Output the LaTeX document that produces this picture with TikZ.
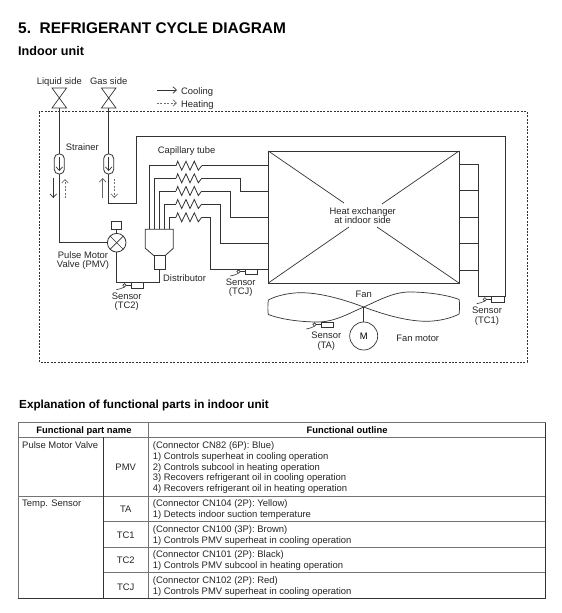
\documentclass[tikz,border=0pt]{standalone}
\usepackage{fontspec}
\setmainfont{Liberation Sans}
\usetikzlibrary{arrows.meta}
\definecolor{ink}{gray}{0.2}
\definecolor{rule}{gray}{0.45}
\tikzset{
  pipe/.style={draw=ink,line width=0.8pt,line join=miter},
  part/.style={draw=ink,line width=0.8pt,fill=white},
  flowc/.style={draw=ink,line width=0.7pt,-{Straight Barb[length=3.6pt,width=6.6pt]}},
  flowh/.style={draw=ink!70,line width=0.7pt,dash pattern=on 2pt off 1.4pt,-{Straight Barb[length=3.6pt,width=6.6pt]}},
  lab/.style={inner sep=0pt,anchor=mid,yshift=-1.5pt,align=center,font=\fontsize{9.4}{9.6}\selectfont,text=black!85},
  labl/.style={inner sep=0pt,anchor=mid west,yshift=-1.5pt,font=\fontsize{9.4}{9.6}\selectfont,text=black!85},
  cell/.style={inner sep=0pt,anchor=mid west,yshift=-1.2pt,font=\fontsize{9.45}{9.6}\selectfont,text=black!85},
  cellc/.style={inner sep=0pt,anchor=mid,yshift=-1.2pt,font=\fontsize{9.45}{9.6}\selectfont,text=black!85},
  head/.style={inner sep=0pt,anchor=mid,yshift=-1.2pt,font=\fontsize{9.4}{9.6}\selectfont\bfseries},
  grid/.style={draw=rule,line width=0.8pt},
  zig/.pic={\draw[pipe] (0,0)--(1.7,-4.5)--(5.7,4.5)--(10,-4.5)--(14,4.5)--(18.3,-4.5)--(22.3,4.5)--(25.7,0);},
  sensor/.pic={
    \draw[ink,line width=0.7pt] (0,0) rectangle (12.4,5.3);
    \draw[ink,line width=0.6pt] (0,2.6)--(-5,2.6);
    \draw[ink,line width=0.6pt] (-6.8,2.6) circle (1.7);
    \draw[ink,line width=0.6pt] (-6.8,4.3) .. controls (-9,6) and (-12,6) .. (-15,7);
  },
  valve/.pic={\draw[ink,line width=0.7pt] (-7.3,-10)--(7.3,-10)--(-7.3,10)--(7.3,10)--cycle;},
  strainer/.pic={
    \draw[part,rounded corners=4.5pt] (-5,-10) rectangle (5,10);
    \draw[flowc] (0,-7)--(0,7);
  },
}
\begin{document}
\begin{tikzpicture}[x=1pt,y=-1pt]
\useasboundingbox (0,0) rectangle (562,613);
\fill[white] (0,0) rectangle (562,613);

% headings
\node[inner sep=0pt,anchor=mid west,font=\fontsize{15.45}{17}\selectfont\bfseries] (title) at (18,30.5) {5.\ \ REFRIGERANT CYCLE DIAGRAM};
\node[inner sep=0pt,anchor=mid west,font=\fontsize{12.6}{13}\selectfont\bfseries] (sub) at (18,53) {Indoor unit};
\node[inner sep=0pt,anchor=mid west,font=\fontsize{11.7}{12}\selectfont\bfseries] (expl) at (19,406) {Explanation of functional parts in indoor unit};

% dashed enclosure
\draw[ink,line width=0.7pt,dash pattern=on 2pt off 1.4pt] (39.3,111.7) rectangle (527,362);

% key points
\coordinate (vl) at (59.3,98);
\coordinate (vg) at (108.7,98);
\coordinate (vlb) at (59.3,108);
\coordinate (vgb) at (108.7,108);
\coordinate (pmv) at (116.7,242.7);
\coordinate (fanc) at (363.7,307);
\coordinate (hxTL) at (268.3,151);
\coordinate (hxBR) at (459,283);

% main pipes
\draw[pipe] (vlb) -- (59.3,242.7) -- (pmv);
\draw[pipe] (vgb) -- (108.7,203) -- (136.7,203) -- (136.7,136.7) -- (505.7,136.7) -- (505.7,296.7) -- (478,296.7) -- (478,164.3) -- (459,164.3);
\foreach \yy in {190.7,217,243,270} \draw[pipe] (459,\yy) -- (478,\yy);
\draw[pipe] (159.3,269.3) -- (159.3,282.7) -- (116.3,282.7) -- (116.3,251);

% capillaries
\draw[pipe] (149.3,229.3) -- (149.3,165.7) -- (176,165.7);
\draw[pipe] (201.7,165.7) -- (268.3,165.7);
\draw[pipe] (154.7,229.3) -- (154.7,178.3) -- (176,178.3);
\draw[pipe] (201.7,178.3) -- (240.7,178.3) -- (240.7,191.7) -- (268.3,191.7);
\draw[pipe] (159.7,229.3) -- (159.7,191) -- (176,191);
\draw[pipe] (201.7,191) -- (230.5,191) -- (230.5,217.2) -- (268.3,217.2);
\draw[pipe] (164.7,229.3) -- (164.7,204) -- (176,204);
\draw[pipe] (201.7,204) -- (220.3,204) -- (220.3,243.3) -- (268.3,243.3);
\draw[pipe] (169.3,229.3) -- (169.3,217.3) -- (176,217.3);
\draw[pipe] (201.7,217.3) -- (210.5,217.3) -- (210.5,269.3) -- (268.3,269.3);
\foreach \yy in {165.7,178.3,191,204,217.3} \pic at (176,\yy) {zig};

% valves and strainers
\pic at (vl) {valve};
\pic at (vg) {valve};
\pic at (59.3,164) {strainer};
\pic at (108.7,164) {strainer};

% flow arrows
\draw[flowc] (53.3,178) -- (53.3,198);
\draw[flowh] (65,198) -- (65,179);
\draw[flowc,draw=ink!75] (102.7,198) -- (102.7,178);
\draw[flowh] (114.3,179) -- (114.3,198);
\coordinate (kc) at (157,90);
\coordinate (kce) at (177,90);
\coordinate (kh) at (157,103);
\coordinate (khe) at (177,103);
\draw[flowc] (kc) -- (kce);
\draw[flowh] (kh) -- (khe);

% PMV
\draw[part] (pmv) circle (9.3);
\draw[ink,line width=0.7pt] (pmv) ++(-6.6,-6.6) -- ++(13.2,13.2);
\draw[ink,line width=0.7pt] (pmv) ++(6.6,-6.6) -- ++(-13.2,13.2);
\draw[ink,line width=0.7pt] (116.7,229.3) -- (116.7,233.4);
\draw[ink,line width=0.7pt] (111.7,221.7) rectangle (121.7,229.3);

% distributor
\draw[part] (145.3,229.3) -- (173.3,229.3) -- (173.3,248.3) -- (165,255.7) -- (154,255.7) -- (145.3,248.3) -- cycle;
\draw[part] (154,255.7) rectangle (165,269.3);

% heat exchanger
\draw[pipe,fill=white] (hxTL) rectangle (hxBR);
\draw[ink,line width=0.7pt] (268.3,151) -- (344,203);
\draw[ink,line width=0.7pt] (459,151) -- (382,204);
\draw[ink,line width=0.7pt] (268.3,283) -- (349,227);
\draw[ink,line width=0.7pt] (459,283) -- (377,227);

% fan and motor
\foreach \rr in {0,180}{
  \begin{scope}[shift={(fanc)},rotate=\rr]
    \draw[ink,line width=0.7pt] (0,0) .. controls (-24,-9) and (-46,-14.5) .. (-64,-14.3)
      .. controls (-76,-14) and (-88,-11) .. (-95.4,-7)
      .. controls (-96,-2) and (-96,4) .. (-95.4,7.5)
      .. controls (-84,12) and (-64,15) .. (-46,15)
      .. controls (-29,15) and (-14,6) .. (0,0);
  \end{scope}
}
\node[draw=ink,line width=0.7pt,circle,minimum size=28pt,inner sep=0pt,font=\fontsize{9.4}{9.6}\selectfont] (motor) at (363.7,336) {M};
\draw[ink,line width=0.7pt] (fanc) -- (motor);

% sensors
\pic at (131.3,282.7) {sensor};
\pic at (245.3,269) {sensor};
\pic at (491.7,296.7) {sensor};
\pic at (321.3,322) {sensor};

% diagram labels
\node[lab] (lliq) at (59.3,80) {Liquid side};
\node[lab] (lgas) at (108.7,80) {Gas side};
\node[labl] (lc) at (181,90) {Cooling};
\node[labl] (lh) at (181,103.5) {Heating};
\node[labl] (lstr) at (65.7,146.7) {Strainer};
\node[labl] (lcap) at (157.7,149.7) {Capillary tube};
\node[lab] (lpm1) at (83,254.7) {Pulse Motor};
\node[lab] (lpm2) at (83,263.7) {Valve (PMV)};
\node[labl] (ldis) at (163,277.7) {Distributor};
\node[lab] (s1a) at (126.7,295) {Sensor};
\node[lab] (s1b) at (126.7,304.7) {(TC2)};
\node[lab] (s2a) at (240.7,281.7) {Sensor};
\node[lab] (s2b) at (240.7,290.7) {(TCJ)};
\node[lab] (s3a) at (487,309) {Sensor};
\node[lab] (s3b) at (487,319) {(TC1)};
\node[lab] (s4a) at (326.3,334.7) {Sensor};
\node[lab] (s4b) at (326.3,344) {(TA)};
\node[lab] (lhx1) at (362.7,210) {Heat exchanger};
\node[lab] (lhx2) at (362.7,219.7) {at indoor side};
\node[lab] (lfan) at (363.7,293.7) {Fan};
\node[lab] (lfm) at (417.7,337.7) {Fan motor};

% table
\draw[grid,line width=1pt] (18,422.7) -- (545.5,422.7);
\draw[grid] (18,437.3) -- (545.5,437.3);
\draw[grid] (18,496) -- (545.5,496);
\draw[grid] (103.3,521.3) -- (545.5,521.3);
\draw[grid] (103.3,547.3) -- (545.5,547.3);
\draw[grid] (103.3,572.7) -- (545.5,572.7);
\draw[ink,line width=1pt] (18,598.3) -- (545.5,598.3);
\draw[grid,line width=1pt] (18,422.7) -- (18,598.3);
\draw[ink,line width=0.7pt] (103.3,437.3) -- (103.3,598.3);
\draw[grid] (148.3,422.7) -- (148.3,598.3);
\draw[ink,line width=0.8pt] (545.5,422.7) -- (545.5,598.3);

\node[head] (h1) at (84,430) {Functional part name};
\node[head] (h2) at (347,430) {Functional outline};
\node[cell] (c1) at (22,445) {Pulse Motor Valve};
\node[cell] (c2) at (22,502.7) {Temp. Sensor};
\node[cellc] (k1) at (125.7,466.7) {PMV};
\node[cellc] (k2) at (125.7,509) {TA};
\node[cellc] (k3) at (125.7,534.3) {TC1};
\node[cellc] (k4) at (125.7,560) {TC2};
\node[cellc] (k5) at (125.7,586.7) {TCJ};
\node[cell] (t1) at (152.7,444.3) {(Connector CN82 (6P): Blue)};
\node[cell] (t2) at (152.7,456) {1) Controls superheat in cooling operation};
\node[cell] (t3) at (152.7,466.7) {2) Controls subcool in heating operation};
\node[cell] (t4) at (152.7,477) {3) Recovers refrigerant oil in cooling operation};
\node[cell] (t5) at (152.7,487.7) {4) Recovers refrigerant oil in heating operation};
\node[cell] (t6) at (152.7,502.7) {(Connector CN104 (2P): Yellow)};
\node[cell] (t7) at (152.7,514) {1) Detects indoor suction temperature};
\node[cell] (t8) at (152.7,528.3) {(Connector CN100 (3P): Brown)};
\node[cell] (t9) at (152.7,540) {1) Controls PMV superheat in cooling operation};
\node[cell] (t10) at (152.7,554) {(Connector CN101 (2P): Black)};
\node[cell] (t11) at (152.7,564.7) {1) Controls PMV subcool in heating operation};
\node[cell] (t12) at (152.7,579.7) {(Connector CN102 (2P): Red)};
\node[cell] (t13) at (152.7,590.7) {1) Controls PMV superheat in cooling operation};
\end{tikzpicture}
\end{document}
